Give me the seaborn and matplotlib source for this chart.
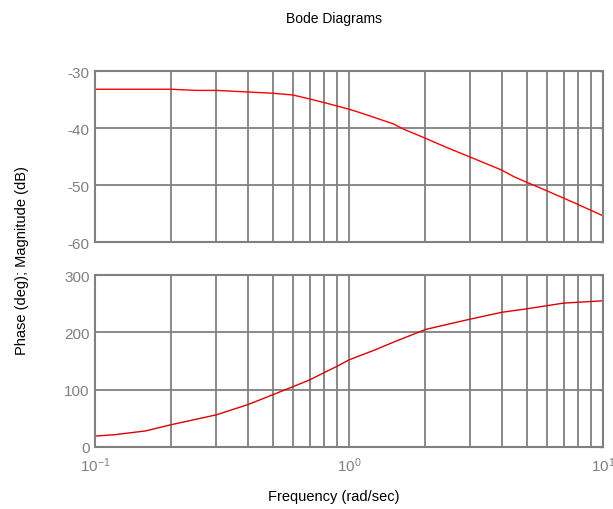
import matplotlib
matplotlib.use("Agg")
import matplotlib.pyplot as plt
import numpy as np
import pandas as pd
import seaborn as sns

# Frequency response samples (rad/sec)
mag_freq = [0.1, 0.2, 0.25, 0.3, 0.5, 0.6, 0.7, 0.84, 1.0, 1.14, 1.5, 1.64, 2.0, 2.42,
            3.0, 4.0, 4.44, 5.0, 6.0, 7.87, 10.0]
mag_db = [-33.2, -33.2, -33.4, -33.4, -33.9, -34.2, -34.9, -35.8, -36.7, -37.5, -39.3, -40.2,
          -41.8, -43.4, -45.1, -47.4, -48.5, -49.5, -51.0, -53.3, -55.4]

phase_freq = [0.1, 0.12, 0.158, 0.2, 0.3, 0.4, 0.5, 0.6, 0.7, 0.8, 0.9, 1.0, 1.26, 1.5,
              2.0, 2.5, 3.0, 4.0, 5.0, 7.0, 10.0]
phase_deg = [19, 21.5, 28, 39, 56, 74, 91, 105, 117, 130, 141, 152, 169, 183,
             205, 215, 223, 235, 241, 251, 255]

mag_ticks = [-60, -50, -40, -30]
phase_ticks = [0, 100, 200, 300]

sns.set_theme(style="white")
plt.rcParams["font.family"] = ["Liberation Sans", "DejaVu Sans"]
plt.rcParams["axes.unicode_minus"] = False

mag_df = pd.DataFrame({"freq": mag_freq, "mag": mag_db})
phase_df = pd.DataFrame({"freq": phase_freq, "phase": phase_deg})

fig = plt.figure(figsize=(6.13, 5.10), dpi=100)
ax_mag = fig.add_axes([0.155, 0.5235, 0.8287, 0.3353])
ax_ph = fig.add_axes([0.155, 0.1216, 0.8287, 0.3372])

grid_color = "#808080"
tick_color = "#808080"

sns.lineplot(data=mag_df, x="freq", y="mag", ax=ax_mag, color="#ff0000", linewidth=1.0)
sns.lineplot(data=phase_df, x="freq", y="phase", ax=ax_ph, color="#dd0000", linewidth=1.0)

for ax, ticks in ((ax_mag, mag_ticks), (ax_ph, phase_ticks)):
    ax.set_xscale("log")
    ax.set_xlim(0.1, 10)
    ax.set_ylim(ticks[0], ticks[-1])
    ax.set_yticks(ticks)
    ax.set_xlabel("")
    ax.set_ylabel("")
    ax.grid(True, which="both", axis="x", color=grid_color, linewidth=1.3)
    ax.grid(True, which="major", axis="y", color=grid_color, linewidth=1.3)
    for s in ax.spines.values():
        s.set_color(grid_color)
        s.set_linewidth(1.5)
    ax.tick_params(axis="both", which="both", direction="in", colors=tick_color,
                   labelsize=11, length=3, width=1)
    ax.tick_params(axis="y", right=True, pad=4)
    ax.tick_params(axis="x", which="minor", length=0)

ax_mag.tick_params(axis="x", labelbottom=False, length=0)
ax_ph.set_xticks([0.1, 1, 10])
ax_ph.set_xticklabels([r"$\mathregular{10^{-1}}$", r"$\mathregular{10^{0}}$", r"$\mathregular{10^{1}}$"])
ax_ph.tick_params(axis="x", which="major", pad=6, length=0)

fig.text(0.545, 0.962, "Bode Diagrams", ha="center", va="center", fontsize=10, color="black")
fig.text(0.545, 0.025, "Frequency (rad/sec)", ha="center", va="center", fontsize=10.5, color="black")
fig.text(0.036, 0.49, "Phase (deg); Magnitude (dB)", ha="center", va="center",
         rotation=90, fontsize=10.5, color="black")

fig.savefig("out.png", dpi=100)
